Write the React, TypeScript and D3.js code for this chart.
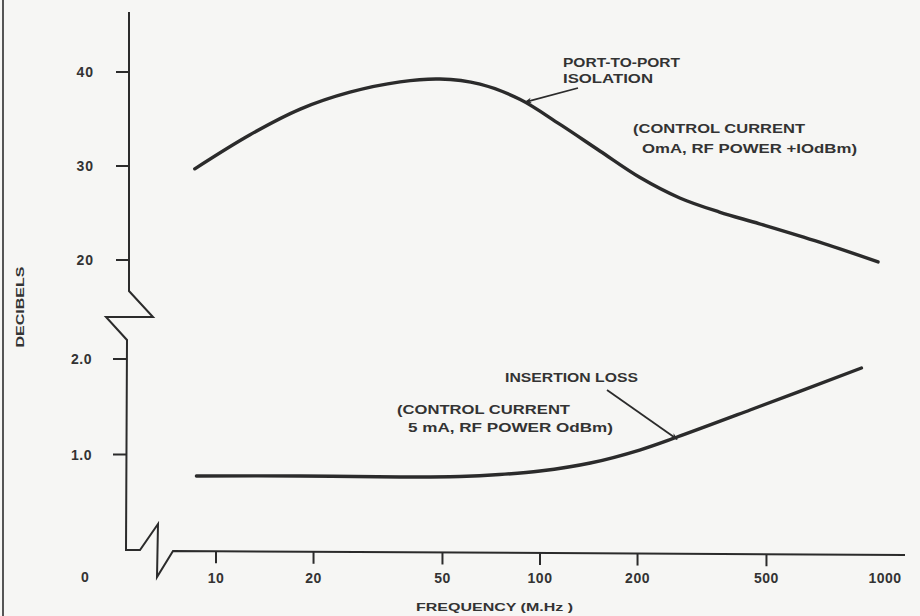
import React from "react";
import * as d3 from "d3";

// ---- data ----
const isoFreq = [8.6, 12.7, 18.2, 25.9, 37, 49.1, 65.3, 86.6, 115, 153, 203, 270, 358, 476, 729, 1105];
const isoDb = [29.7, 33.3, 36.05, 37.85, 38.95, 39.25, 38.7, 37.1, 34.45, 31.6, 28.8, 26.6, 25.1, 23.85, 21.9, 19.8];

const ilFreq = [8.7, 18.2, 37, 56.6, 75, 100, 143, 203, 265, 445, 982];
const ilDb = [0.775, 0.775, 0.765, 0.77, 0.79, 0.827, 0.911, 1.047, 1.183, 1.466, 1.906];

const xTickValues = [10, 20, 50, 100, 200, 500];
const xTickLabels = ["10", "20", "50", "100", "200", "500", "1000"];
const xLabelValues = [10, 20, 50, 100, 200, 500, 1000];
const yTopTicks = [40, 30, 20];
const yTopLabels = ["40", "30", "20"];
const yBotTicks = [2, 1];
const yBotLabels = ["2.0", "1.0"];

const W = 920;
const H = 616;
const INK = "#2b2b2b";
const FONT = "'Liberation Sans', Arial, sans-serif";

export default function App() {
  const x = d3.scaleLog().domain([10, 100]).range([216, 540]);
  const yTop = d3.scaleLinear().domain([20, 40]).range([260, 72]);
  const yBot = d3.scaleLinear().domain([0, 2]).range([550, 359]);

  const isoLine = d3
    .line<number>()
    .x((_, i) => x(isoFreq[i]))
    .y((d) => yTop(d))
    .curve(d3.curveCatmullRom.alpha(0.5));
  const ilLine = d3
    .line<number>()
    .x((_, i) => x(ilFreq[i]))
    .y((d) => yBot(d))
    .curve(d3.curveCatmullRom.alpha(0.5));

  // axis with break symbols
  const axisPath = [
    [129, 12],
    [129, 291],
    [153, 317],
    [106, 317],
    [127, 340],
    [126, 550],
    [140, 550],
    [158, 524],
    [157, 577],
    [173, 551],
    [905, 555],
  ];
  const axisD = d3.line()(axisPath as [number, number][]) || "";
  const axisY = (px: number) => 551 + ((px - 173) / (905 - 173)) * 4;

  // arrow tips on the curves
  const tip1 = [x(90), yTop(36.8)];
  const tip2 = [x(265), yBot(1.16)];

  const textStyle = {
    fontFamily: FONT,
    fontWeight: 700,
    fill: "#333",
  } as const;

  return (
    <svg
      width={W}
      height={H}
      style={{ position: "absolute", left: 0, top: 0, background: "#f6f6f4" }}
    >
      <defs>
        <marker
          id="ah"
          viewBox="0 0 10 10"
          refX="9"
          refY="5"
          markerWidth="10"
          markerHeight="7"
          orient="auto"
          markerUnits="userSpaceOnUse"
        >
          <path d="M0,1 L10,5 L0,9 L3,5 Z" fill={INK} />
        </marker>
      </defs>
      <rect x={0} y={0} width={W} height={H} fill="#f6f6f4" />
      {/* scan border */}
      <line x1={3} y1={0} x2={3} y2={H} stroke="#555" strokeWidth={2} />

      {/* axes */}
      <path d={axisD} fill="none" stroke={INK} strokeWidth={2} strokeLinejoin="miter" />

      {/* y ticks upper */}
      {yTopTicks.map((v, i) => (
        <g key={"yt" + v}>
          <line x1={116} x2={129} y1={yTop(v)} y2={yTop(v)} stroke={INK} strokeWidth={2} />
          <text x={94} y={yTop(v) + 5} textAnchor="end" fontSize={14} style={textStyle} letterSpacing={1}>
            {yTopLabels[i]}
          </text>
        </g>
      ))}
      {yBotTicks.map((v, i) => (
        <g key={"yb" + v}>
          <line x1={113} x2={127} y1={yBot(v)} y2={yBot(v)} stroke={INK} strokeWidth={2} />
          <text x={92} y={yBot(v) + 5} textAnchor="end" fontSize={14} style={textStyle} letterSpacing={0.5}>
            {yBotLabels[i]}
          </text>
        </g>
      ))}
      <text x={85} y={582} textAnchor="middle" fontSize={14} style={textStyle}>
        0
      </text>

      {/* x ticks */}
      {xTickValues.map((v) => (
        <line
          key={"xt" + v}
          x1={x(v)}
          x2={x(v)}
          y1={axisY(x(v))}
          y2={axisY(x(v)) + 12}
          stroke={INK}
          strokeWidth={2}
        />
      ))}
      {xLabelValues.map((v, i) => (
        <text
          key={"xl" + v}
          x={x(v) + (v === 1000 ? 21 : 0)}
          y={583}
          textAnchor="middle"
          fontSize={14}
          style={textStyle}
          letterSpacing={0.5}
        >
          {xTickLabels[i]}
        </text>
      ))}

      {/* axis titles */}
      <text x={416} y={611} fontSize={11} style={textStyle} textLength={157} lengthAdjust="spacingAndGlyphs">
        FREQUENCY (M.Hz )
      </text>
      <text
        transform="translate(24,307) rotate(-90)"
        textAnchor="middle"
        fontSize={11}
        style={textStyle}
        textLength={81}
        lengthAdjust="spacingAndGlyphs"
      >
        DECIBELS
      </text>

      {/* curves */}
      <path d={isoLine(isoDb) || ""} fill="none" stroke={INK} strokeWidth={3.4} strokeLinecap="round" />
      <path d={ilLine(ilDb) || ""} fill="none" stroke={INK} strokeWidth={3.4} strokeLinecap="round" />

      {/* annotations: isolation */}
      <text x={563} y={67} fontSize={13} style={textStyle} textLength={117} lengthAdjust="spacingAndGlyphs">
        PORT-TO-PORT
      </text>
      <text x={563} y={83} fontSize={13} style={textStyle} textLength={90} lengthAdjust="spacingAndGlyphs">
        ISOLATION
      </text>
      <line
        x1={578}
        y1={88}
        x2={tip1[0]}
        y2={tip1[1]}
        stroke={INK}
        strokeWidth={1.8}
        markerEnd="url(#ah)"
      />
      <text x={633} y={133} fontSize={13} style={textStyle} textLength={172} lengthAdjust="spacingAndGlyphs">
        (CONTROL CURRENT
      </text>
      <text x={642} y={153} fontSize={13} style={textStyle} textLength={215} lengthAdjust="spacingAndGlyphs">
        OmA, RF POWER  +IOdBm)
      </text>

      {/* annotations: insertion loss */}
      <text x={505} y={382} fontSize={13} style={textStyle} textLength={133} lengthAdjust="spacingAndGlyphs">
        INSERTION LOSS
      </text>
      <line
        x1={607}
        y1={390}
        x2={tip2[0]}
        y2={tip2[1]}
        stroke={INK}
        strokeWidth={1.8}
        markerEnd="url(#ah)"
      />
      <text x={397} y={414} fontSize={13} style={textStyle} textLength={173} lengthAdjust="spacingAndGlyphs">
        (CONTROL CURRENT
      </text>
      <text x={408} y={432} fontSize={13} style={textStyle} textLength={205} lengthAdjust="spacingAndGlyphs">
        5 mA, RF POWER OdBm)
      </text>
    </svg>
  );
}
